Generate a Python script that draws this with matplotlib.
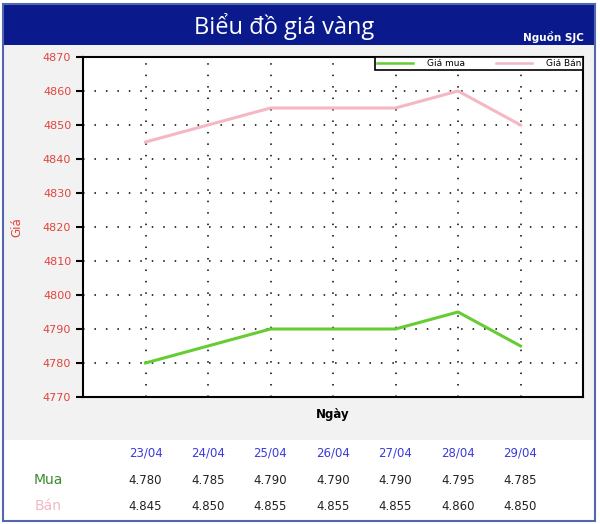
import matplotlib
matplotlib.use("Agg")
from matplotlib import pyplot as plt
from matplotlib.patches import Rectangle
from matplotlib.transforms import blended_transform_factory

days = ["23/04", "24/04", "25/04", "26/04", "27/04", "28/04", "29/04"]
mua = [4780, 4785, 4790, 4790, 4790, 4795, 4785]
ban = [4845, 4850, 4855, 4855, 4855, 4860, 4850]
mua_txt = ["4.780", "4.785", "4.790", "4.790", "4.790", "4.795", "4.785"]
ban_txt = ["4.845", "4.850", "4.855", "4.855", "4.855", "4.860", "4.850"]
yticks = [4770, 4780, 4790, 4800, 4810, 4820, 4830, 4840, 4850, 4860, 4870]

W, H = 600, 524
fig = plt.figure(figsize=(6, 5.24), dpi=100)
fig.patch.set_facecolor("white")

def px(x0, y0, x1, y1, **kw):
    # rectangle given in pixel coords (top-left origin)
    r = Rectangle((x0 / W, 1 - y1 / H), (x1 - x0) / W, (y1 - y0) / H,
                  transform=fig.transFigure, **kw)
    fig.patches.append(r)

px(3, 45, 595, 440, facecolor="#f2f2f2", edgecolor="none", zorder=-2)
px(3, 4, 595, 45, facecolor="#0a1a8c", edgecolor="none", zorder=-2)
px(3, 4, 595, 521, facecolor="none", edgecolor="#5566b0", linewidth=1.5, zorder=5)

fig.text(284 / W, 1 - 26 / H, "Biểu đồ giá vàng", color="white", fontsize=17,
         ha="center", va="center", family="Open Sans")
fig.text(584 / W, 1 - 37 / H, "Nguồn SJC", color="white", fontsize=7.5,
         ha="right", va="center", fontweight="bold", family="Liberation Sans Narrow")

ax = fig.add_axes([83 / W, 1 - 397 / H, 500 / W, 340 / H])
ax.set_zorder(2)
ax.set_facecolor("white")
x = list(range(1, len(days) + 1))
ax.plot(x, mua, color="#66cc33", linewidth=2.2, label="Giá mua")
ax.plot(x, ban, color="#f4b8c4", linewidth=2.2, label="Giá Bán")
ax.set_xlim(0, 8)
ax.set_ylim(4770, 4870)
ax.set_yticks(yticks)
ax.set_xticks(x)
ax.tick_params(axis="x", length=0, labelbottom=False)
ax.tick_params(axis="y", direction="out", length=5, width=1.5,
               labelcolor="#e0453c", labelsize=8)
ax.grid(True, color="black", linestyle=(0, (1, 6.5)), linewidth=1.1)
for s in ax.spines.values():
    s.set_linewidth(1.5)
ax.set_ylabel("Giá", color="#e0453c", fontsize=8.5, labelpad=14)
ax.set_xlabel("Ngày", fontsize=8.5, fontweight="bold", labelpad=8)

leg = ax.legend(loc="upper right", ncol=2, fontsize=6.5, frameon=True,
                fancybox=False, borderaxespad=0, handlelength=4,
                columnspacing=3.5, borderpad=0.2, handletextpad=1.5,
                framealpha=1)
leg.get_frame().set_edgecolor("black")
leg.get_frame().set_linewidth(1.2)
for h in leg.get_lines():
    h.set_linewidth(1.8)

tr = blended_transform_factory(ax.transData, fig.transFigure)
for i, d in enumerate(days):
    fig.text(x[i], 1 - 453 / H, d, transform=tr, color="#3a3adc",
             fontsize=8.5, ha="center", va="center")
    fig.text(x[i], 1 - 480 / H, mua_txt[i], transform=tr, color="#222222",
             fontsize=8.5, ha="center", va="center")
    fig.text(x[i], 1 - 506 / H, ban_txt[i], transform=tr, color="#222222",
             fontsize=8.5, ha="center", va="center")
fig.text(48 / W, 1 - 480 / H, "Mua", color="#3c8a2e", fontsize=10,
         ha="center", va="center")
fig.text(48 / W, 1 - 506 / H, "Bán", color="#f2b8c4", fontsize=10,
         ha="center", va="center")

fig.savefig("out.png", dpi=100)
